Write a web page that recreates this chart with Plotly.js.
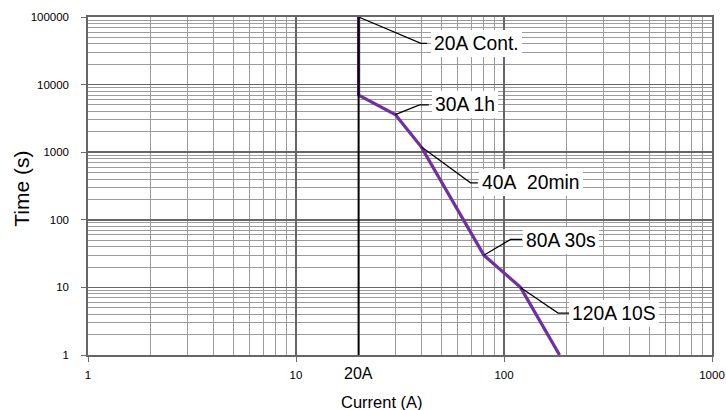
<!DOCTYPE html>
<html><head><meta charset="utf-8">
<script src="https://cdn.plot.ly/plotly-3.0.1.min.js"></script>
<style>html,body{margin:0;padding:0;background:#fff}#chart{width:726px;height:410px}</style>
</head><body><div id="chart"></div>
<script>
// ---- data ----
const curveCurrent = [20, 20, 30, 40, 80, 120, 185];
const curveTime = [100000, 7000, 3600, 1200, 30, 10, 1];
const contCurrent = [20, 20];
const contTime = [1, 100000];
const xTickVals = [1, 10, 100, 1000];
const xTickText = ['1', '10', '100', '1000'];
const yTickVals = [1, 10, 100, 1000, 10000, 100000];
const yTickText = ['1', '10', '100', '1000', '10000', '100000'];
const labelText = ['20A Cont.', '30A 1h', '40A\u00a0\u00a020min', '80A 30s', '120A 10S'];
const labelCurrent = [20, 30, 40, 80, 120];
const labelTime = [100000, 3600, 1200, 30, 10];
const markerLabel = '20A';
const markerCurrent = 20;
const xTitle = 'Current (A)';
const yTitle = 'Time (s)';

// ---- leader geometry: pixel offsets from labelled point (y down) ----
const leaderGeom = [
  {ex: 62.3, ey: 26.3, hx: 68.6, tx: 75.3, ty: 26.7},
  {ex: 24.3, ey: -9.7, hx: 33.6, tx: 39.3, ty: -10.2},
  {ex: 49.3, ey: 36.0, hx: 56.6, tx: 61.0, ty: 36.0},
  {ex: 26.7, ey: -15.7, hx: 38.4, tx: 41.7, ty: -14.2},
  {ex: 37.6, ey: 25.7, hx: 49.3, tx: 52.0, ty: 26.2}
];

const FONT = 'Liberation Sans, Arial, Helvetica, sans-serif';
const PAD = 3;

const traces = [
  {x: curveCurrent, y: curveTime, mode: 'lines', type: 'scatter',
   line: {color: '#7030a0', width: 3.2}, hoverinfo: 'skip'},
  {x: contCurrent, y: contTime, mode: 'lines', type: 'scatter',
   line: {color: '#000000', width: 2}, hoverinfo: 'skip'}
];

const shapes = labelText.map((t, i) => {
  const g = leaderGeom[i];
  return {
    type: 'path', xref: 'x', yref: 'y',
    xsizemode: 'pixel', ysizemode: 'pixel',
    xanchor: labelCurrent[i], yanchor: labelTime[i],
    path: 'M0,0L' + g.ex + ',' + (-g.ey) + 'L' + g.hx + ',' + (-g.ey),
    line: {color: '#000', width: 1.2}
  };
});

const annotations = labelText.map((t, i) => {
  const g = leaderGeom[i];
  return {
    text: t, xref: 'x', yref: 'y',
    x: Math.log10(labelCurrent[i]), y: Math.log10(labelTime[i]),
    xanchor: 'left', yanchor: 'middle',
    xshift: g.tx - PAD, yshift: -g.ty,
    showarrow: false, bgcolor: '#ffffff', borderpad: PAD, borderwidth: 0,
    font: {family: FONT, size: 19.3, color: '#000'}
  };
});

annotations.push({
  text: markerLabel, xref: 'x', yref: 'paper',
  x: Math.log10(markerCurrent), y: 0, xanchor: 'center', yanchor: 'middle',
  yshift: -18, showarrow: false,
  font: {family: FONT, size: 16, color: '#000'}
});
annotations.push({
  text: xTitle, xref: 'paper', yref: 'paper',
  x: (382 - 88) / 624, y: 0, xanchor: 'center', yanchor: 'middle',
  yshift: -46.7, showarrow: false,
  font: {family: FONT, size: 16.5, color: '#000'}
});
annotations.push({
  text: yTitle, xref: 'paper', yref: 'paper',
  x: 0, y: 0.5, xanchor: 'center', yanchor: 'middle', textangle: -90,
  xshift: -66, yshift: -2.7, showarrow: false,
  font: {family: FONT, size: 21, color: '#000'}
});

const axisCommon = {
  type: 'log', tickmode: 'array', ticks: 'outside', ticklen: 5, tickcolor: '#6e6e6e',
  tickwidth: 1, tickfont: {family: FONT, size: 11.5, color: '#000'},
  showgrid: true, gridcolor: '#666666', gridwidth: 1.7,
  minor: {dtick: 'D1', showgrid: true, gridcolor: '#9c9c9c', gridwidth: 1, ticks: ''},
  showline: true, mirror: true, linecolor: '#666666', linewidth: 1.7,
  zeroline: false, fixedrange: true
};

const layout = {
  width: 726, height: 410,
  margin: {l: 88, r: 14, t: 17, b: 55},
  paper_bgcolor: '#ffffff', plot_bgcolor: '#ffffff',
  showlegend: false,
  font: {family: FONT, color: '#000'},
  xaxis: Object.assign({}, axisCommon, {range: [0, 3], tickvals: xTickVals, ticktext: xTickText, ticklabelstandoff: 3}),
  yaxis: Object.assign({}, axisCommon, {range: [0, 5], tickvals: yTickVals, ticktext: yTickText, ticklabelstandoff: 10}),
  shapes: shapes,
  annotations: annotations
};

Plotly.newPlot('chart', traces, layout, {displayModeBar: false, staticPlot: true});
</script>
</body></html>
